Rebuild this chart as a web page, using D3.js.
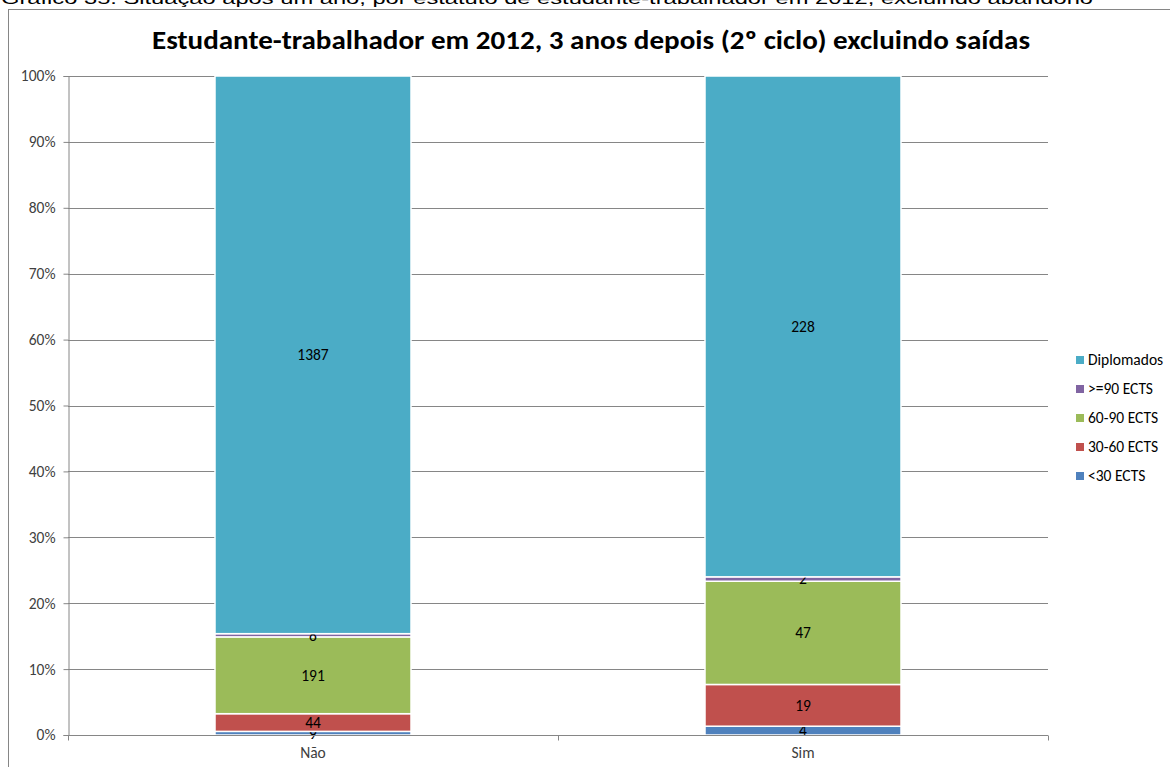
<!DOCTYPE html>
<html>
<head>
<meta charset="utf-8">
<script src="https://cdn.jsdelivr.net/npm/d3@7"></script>
<style>
  html, body { margin: 0; padding: 0; background: #fff; }
  svg { display: block; }
</style>
</head>
<body>
<svg id="chart" width="1170" height="767"></svg>
<script>
// Students by working-student status in 2012, situation 3 years later (2nd cycle)
const categories = ["Não", "Sim"];
const seriesNames = ["<30 ECTS", "30-60 ECTS", "60-90 ECTS", ">=90 ECTS", "Diplomados"];
const seriesColors = ["#4F81BD", "#C0504D", "#9BBB59", "#8064A2", "#4BACC6"];
const lt30 = [9, 4];
const ects30_60 = [44, 19];
const ects60_90 = [191, 47];
const ge90 = [8, 2];
const diplomados = [1387, 228];
const yTicks = [0, 0.1, 0.2, 0.3, 0.4, 0.5, 0.6, 0.7, 0.8, 0.9, 1.0];

const caption = "Gráfico 35: Situação após um ano, por estatuto de estudante-trabalhador em 2012, excluindo abandono";
const title = "Estudante-trabalhador em 2012, 3 anos depois (2º ciclo) excluindo saídas";

const seriesValues = [lt30, ects30_60, ects60_90, ge90, diplomados];

const svg = d3.select("#chart");
const labelFont = "Carlito, Calibri, Lato, 'Open Sans', sans-serif";
const labelSize = 15.5;

// Caption above the chart frame
svg.append("text")
  .attr("x", 1).attr("y", 4)
  .attr("font-family", "'Liberation Sans', Arial, sans-serif")
  .attr("font-size", 17)
  .attr("fill", "#000")
  .attr("textLength", 1092)
  .attr("lengthAdjust", "spacingAndGlyphs")
  .text(caption);

// Chart frame
svg.append("rect")
  .attr("x", 8.5).attr("y", 9.5)
  .attr("width", 1300).attr("height", 900)
  .attr("fill", "#fff")
  .attr("stroke", "#868686").attr("stroke-width", 1);

// Title
svg.append("text")
  .attr("x", 591).attr("y", 49)
  .attr("text-anchor", "middle")
  .attr("font-family", labelFont)
  .attr("font-weight", "bold")
  .attr("font-size", 26)
  .attr("fill", "#000")
  .attr("textLength", 878)
  .attr("lengthAdjust", "spacingAndGlyphs")
  .text(title);

const plot = { left: 68, right: 1048, top: 76, bottom: 735 };

const x = d3.scaleBand()
  .domain(categories)
  .range([plot.left, plot.right])
  .paddingInner(0.6)
  .paddingOuter(0.3);

const y = d3.scaleLinear().domain([0, 1]).range([plot.bottom, plot.top]);

// Gridlines
svg.append("g")
  .selectAll("line")
  .data(yTicks.filter(d => d > 0))
  .join("line")
  .attr("x1", plot.left).attr("x2", plot.right)
  .attr("y1", d => Math.round(y(d)) + 0.5).attr("y2", d => Math.round(y(d)) + 0.5)
  .attr("stroke", "#868686").attr("stroke-width", 1);

// Y axis
const yAxis = svg.append("g")
  .attr("transform", `translate(${plot.left + 0.5},0)`)
  .call(d3.axisLeft(y).tickValues(yTicks).tickFormat(d3.format(".0%")).tickSize(5).tickPadding(8));
yAxis.select(".domain").attr("stroke", "#868686");
yAxis.selectAll(".tick line").attr("stroke", "#868686");
yAxis.selectAll(".tick text")
  .attr("font-family", labelFont).attr("font-size", labelSize).attr("fill", "#404040");

// Stacked shares
const totals = categories.map((c, i) => d3.sum(seriesValues, s => s[i]));
const rows = categories.map((c, i) => {
  const r = { cat: c };
  seriesNames.forEach((n, k) => { r[n] = seriesValues[k][i] / totals[i]; });
  return r;
});
const stacked = d3.stack().keys(seriesNames)(rows);

const layers = svg.append("g")
  .selectAll("g")
  .data(stacked)
  .join("g")
  .attr("fill", (d, k) => seriesColors[k]);

layers.selectAll("rect")
  .data(d => d)
  .join("rect")
  .attr("x", d => x(d.data.cat))
  .attr("width", x.bandwidth())
  .attr("y", d => y(d[1]))
  .attr("height", d => y(d[0]) - y(d[1]))
  .attr("stroke", "#fff")
  .attr("stroke-width", 1.5);

// Value labels
layers.each(function (layer, k) {
  d3.select(this).selectAll("text")
    .data(layer)
    .join("text")
    .attr("x", d => x(d.data.cat) + x.bandwidth() / 2)
    .attr("y", d => (y(d[0]) + y(d[1])) / 2)
    .attr("dy", "0.35em")
    .attr("text-anchor", "middle")
    .attr("font-family", labelFont)
    .attr("font-size", labelSize)
    .attr("fill", "#000")
    .text((d, i) => seriesValues[k][i]);
});

// X axis
const xAxisG = svg.append("g")
  .attr("transform", `translate(0,${plot.bottom + 0.5})`);
xAxisG.append("line")
  .attr("x1", plot.left).attr("x2", plot.right)
  .attr("stroke", "#868686");
const boundaries = [plot.left, plot.left + (plot.right - plot.left) / 2, plot.right];
xAxisG.selectAll("line.tk")
  .data(boundaries)
  .join("line")
  .attr("class", "tk")
  .attr("x1", d => Math.round(d) + 0.5).attr("x2", d => Math.round(d) + 0.5)
  .attr("y1", 0).attr("y2", 5)
  .attr("stroke", "#868686");
xAxisG.selectAll("text")
  .data(categories)
  .join("text")
  .attr("x", d => x(d) + x.bandwidth() / 2)
  .attr("y", 22)
  .attr("text-anchor", "middle")
  .attr("font-family", labelFont)
  .attr("font-size", labelSize)
  .attr("fill", "#404040")
  .text(d => d);

// Legend (top entry is the top of the stack)
const legendOrder = seriesNames.map((n, k) => ({ name: n, color: seriesColors[k] })).reverse();
const legend = svg.append("g").attr("transform", "translate(1076,360)");
const items = legend.selectAll("g")
  .data(legendOrder)
  .join("g")
  .attr("transform", (d, i) => `translate(0,${i * 29})`);
items.append("rect")
  .attr("x", 0).attr("y", -4)
  .attr("width", 8).attr("height", 8)
  .attr("fill", d => d.color);
items.append("text")
  .attr("x", 12).attr("y", 0)
  .attr("dy", "0.35em")
  .attr("font-family", labelFont)
  .attr("font-size", labelSize)
  .attr("fill", "#000")
  .text(d => d.name);
</script>
</body>
</html>
